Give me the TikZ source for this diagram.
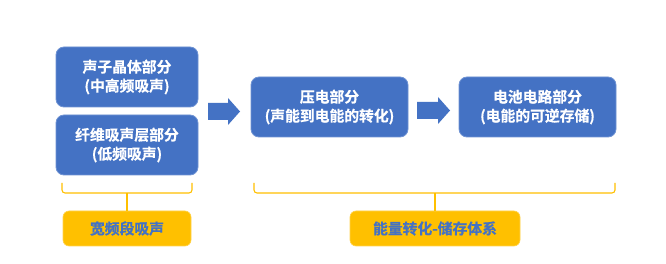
\documentclass[tikz,border=0pt]{standalone}
\usepackage{fontspec}
\setmainfont{Noto Sans CJK SC Bold}
\newfontfamily\cjkb[FakeBold=0.6]{Noto Sans CJK SC Bold}
\definecolor{bblue}{HTML}{4472C4}
\definecolor{bedge}{HTML}{6F93D3}
\definecolor{gold}{HTML}{FFC000}
\definecolor{goldedge}{HTML}{FFD34D}
\begin{document}
\begin{tikzpicture}[x=1pt,y=-1pt,
  bluebox/.style={draw=bedge,line width=0.8pt,fill=bblue,rounded corners=8pt,text=white,
    font=\cjkb\fontsize{14.8}{19}\selectfont,align=center,inner sep=0pt},
  goldbox/.style={draw=goldedge,line width=0.6pt,fill=gold,rounded corners=6pt,text=bblue,
    font=\cjkb\fontsize{14.8}{19}\selectfont,align=center,inner sep=0pt},
  blockarrow/.style={fill=bblue,draw=none},
  bracketline/.style={draw=gold,line width=1.1pt,rounded corners=3pt}]
\useasboundingbox (0,0) rectangle (666,264);
\fill[white] (0,0) rectangle (666,264);
% blue boxes
\node[bluebox,minimum width=142pt,minimum height=60pt] (b1) at (127,77) {声子晶体部分\\(中高频吸声)};
\node[bluebox,minimum width=142pt,minimum height=60pt] (b2) at (127,145) {纤维吸声层部分\\(低频吸声)};
\node[bluebox,minimum width=157pt,minimum height=60pt] (b3) at (329.5,107) {压电部分\\(声能到电能的转化)};
\node[bluebox,minimum width=157pt,minimum height=60pt] (b4) at (537.5,107) {电池电路部分\\(电能的可逆存储)};
% block arrows
\fill[blockarrow] (208,103) -- (228,103) -- (228,98) -- (240,111.5) -- (228,125) -- (228,120) -- (208,120) -- cycle;
\fill[blockarrow] (417,102) -- (438,102) -- (438,97) -- (450,110.5) -- (438,124) -- (438,119) -- (417,119) -- cycle;
% gold boxes
\node[goldbox,minimum width=128pt,minimum height=35pt] (g1) at (127,228.5) {宽频段吸声};
\node[goldbox,minimum width=170pt,minimum height=35pt] (g2) at (435,228.5) {能量转化-储存体系};
% brackets
\coordinate (l1) at (62,183);
\coordinate (r1) at (192,183);
\draw[bracketline] (l1) -- (62,193) -- (192,193) -- (r1);
\draw[draw=gold,line width=1.1pt] (127,193) -- (g1.north);
\coordinate (l2) at (254,183);
\coordinate (r2) at (615,183);
\draw[bracketline] (l2) -- (254,193) -- (615,193) -- (r2);
\draw[draw=gold,line width=1.1pt] (435,193) -- (g2.north);
\end{tikzpicture}
\end{document}
